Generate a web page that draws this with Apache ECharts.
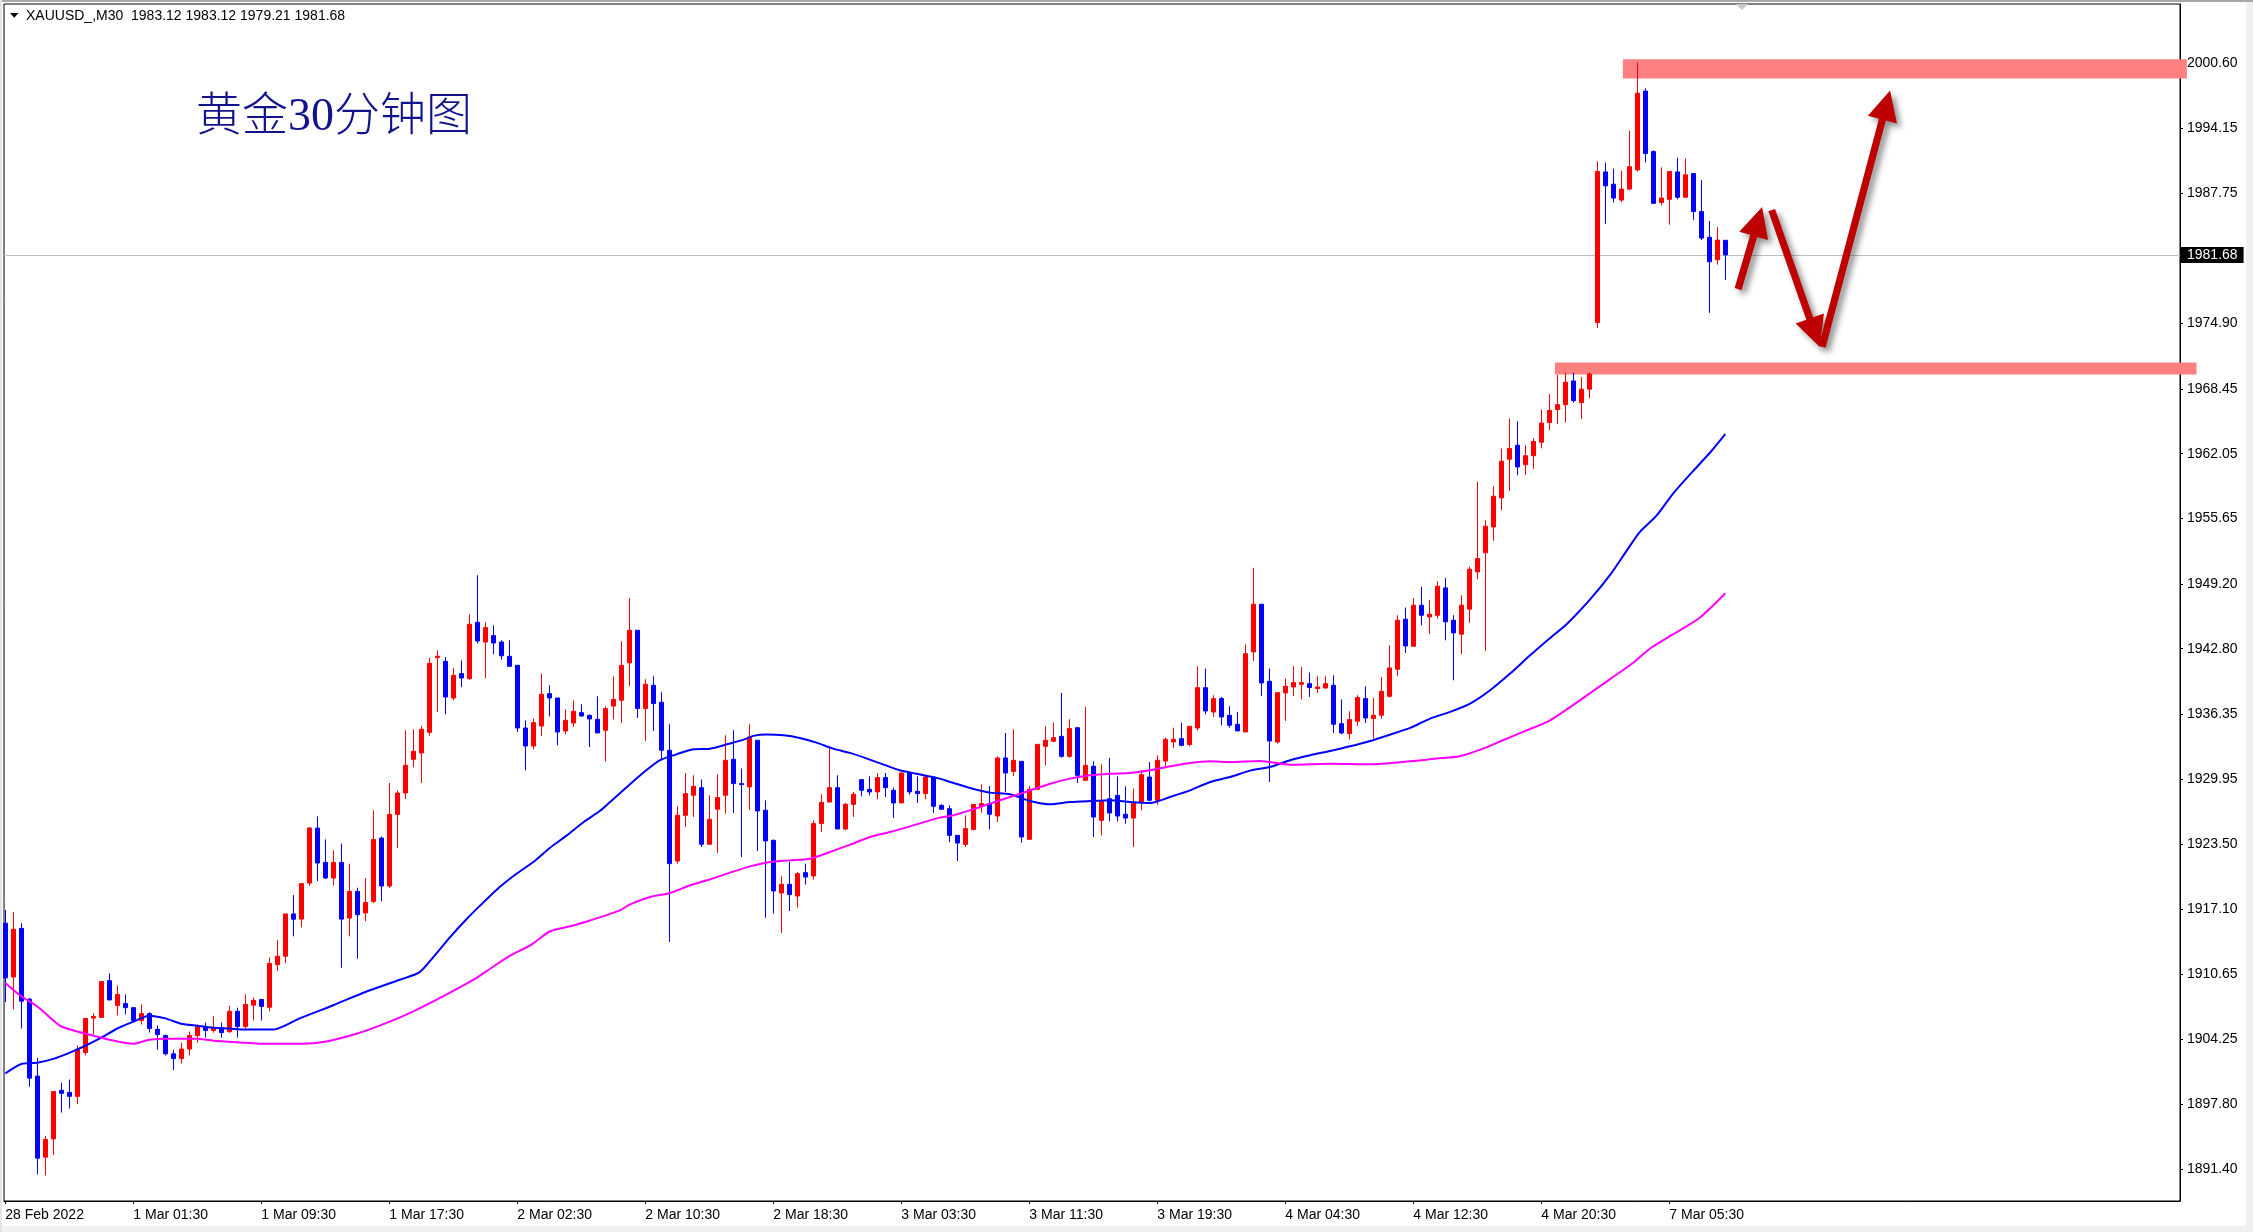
<!DOCTYPE html>
<html><head><meta charset="utf-8">
<script src="https://cdn.jsdelivr.net/npm/echarts@6/dist/echarts.min.js"></script>
<style>html,body{margin:0;padding:0;background:#fff;overflow:hidden;}#c{width:2253px;height:1232px;}</style>
</head><body><div id="c"></div>
<script>
// ---------------- DATA ----------------
const opens = [
1915.70,1910.38,1915.18,1908.20,1900.60,1892.60,1894.40,1899.20,1898.99,1898.60,
1902.92,1906.33,1906.40,1910.02,1907.56,1907.76,1907.36,1906.09,1906.77,1905.22,
1904.60,1902.80,1902.33,1903.27,1904.60,1905.50,1905.10,1905.38,1904.98,1907.00,
1905.50,1907.60,1908.16,1907.40,1911.60,1912.44,1916.61,1916.10,1919.66,1925.09,
1921.70,1920.16,1921.70,1916.20,1918.84,1916.70,1917.85,1924.10,1919.37,1926.44,
1928.55,1931.88,1932.50,1934.54,1941.92,1941.55,1937.93,1940.34,1939.84,1945.41,
1943.46,1944.09,1943.46,1942.05,1941.16,1934.97,1933.19,1935.17,1938.36,1937.93,
1934.67,1935.46,1936.48,1936.22,1935.83,1934.74,1937.14,1937.71,1941.40,1944.62,
1936.89,1939.19,1937.51,1932.77,1921.84,1926.35,1928.33,1929.08,1923.49,1926.95,
1928.33,1931.88,1929.48,1929.15,1933.76,1926.85,1923.88,1918.68,1919.54,1918.38,
1920.69,1920.36,1925.53,1927.66,1929.08,1925.00,1927.43,1929.87,1928.92,1928.66,
1930.07,1928.82,1927.57,1930.53,1928.72,1928.49,1930.13,1927.33,1927.00,1924.37,
1923.48,1924.96,1927.27,1927.50,1926.28,1932.01,1930.69,1931.68,1923.98,1928.92,
1933.16,1933.66,1934.15,1932.17,1935.00,1929.80,1931.19,1925.85,1927.99,1928.32,
1926.45,1926.08,1927.60,1930.13,1927.83,1931.71,1933.59,1933.92,1933.33,1934.97,
1938.95,1936.55,1937.87,1936.22,1935.34,1934.58,1942.48,1947.19,1939.58,1933.59,
1938.43,1939.02,1939.29,1939.35,1938.86,1938.92,1939.19,1935.40,1934.41,1935.64,
1937.87,1935.90,1936.23,1938.10,1940.77,1945.71,1943.04,1947.09,1945.94,1946.10,
1948.80,1945.61,1944.23,1946.70,1950.38,1952.26,1954.82,1957.69,1961.51,1962.89,
1960.96,1961.85,1963.18,1965.12,1966.41,1966.89,1969.23,1967.09,1968.42,1974.99,
1989.87,1988.66,1987.09,1988.18,1990.07,1997.85,1991.88,1986.85,1987.17,1989.87,
1987.37,1989.71,1985.96,1983.42,1981.20,1983.12];
const highs = [
1917.00,1916.81,1915.70,1908.30,1902.40,1894.70,1899.10,1899.94,1900.26,1903.63,
1906.30,1906.81,1909.94,1910.74,1909.55,1908.67,1907.36,1907.68,1906.90,1905.60,
1904.70,1903.20,1903.90,1905.00,1905.70,1905.90,1906.50,1905.90,1907.56,1907.36,
1908.67,1908.36,1908.16,1912.32,1914.03,1916.61,1918.47,1919.65,1925.20,1926.25,
1923.97,1922.89,1923.55,1921.57,1919.20,1920.16,1926.84,1924.27,1929.54,1928.80,
1934.74,1934.84,1935.20,1941.90,1942.64,1941.98,1940.90,1941.65,1946.20,1950.05,
1945.41,1945.11,1943.63,1943.63,1941.16,1935.73,1935.89,1940.34,1939.18,1937.93,
1936.81,1937.70,1937.31,1936.29,1938.10,1937.11,1940.07,1943.54,1947.82,1944.62,
1939.78,1940.08,1938.50,1935.34,1927.24,1930.53,1930.30,1929.90,1928.33,1930.40,
1934.25,1934.75,1930.96,1935.34,1933.76,1927.83,1923.95,1920.33,1921.74,1920.75,
1921.58,1925.86,1928.43,1933.10,1930.30,1927.57,1928.66,1929.87,1930.20,1930.53,
1930.53,1929.08,1930.53,1930.53,1930.20,1930.30,1930.13,1927.45,1927.33,1924.37,
1926.35,1927.43,1929.41,1929.24,1932.17,1934.48,1934.84,1931.68,1929.24,1933.36,
1935.14,1935.50,1938.43,1935.83,1935.00,1937.05,1931.68,1931.38,1932.01,1930.20,
1929.21,1928.98,1930.79,1931.61,1932.27,1934.02,1935.00,1935.50,1935.14,1941.06,
1940.83,1938.20,1938.03,1937.11,1936.55,1943.23,1950.78,1947.19,1940.83,1938.46,
1939.85,1941.07,1941.00,1940.44,1940.08,1940.08,1940.18,1937.80,1936.62,1938.20,
1939.09,1937.94,1940.01,1943.14,1946.10,1946.86,1947.81,1948.90,1947.58,1949.46,
1949.79,1946.10,1948.08,1950.88,1959.27,1955.48,1958.84,1962.56,1965.52,1965.26,
1962.90,1963.58,1966.41,1967.94,1969.83,1970.03,1970.03,1969.63,1970.11,1990.92,
1990.80,1990.19,1989.99,1993.94,2000.67,1998.13,1992.01,1990.31,1989.91,1991.28,
1991.20,1989.71,1989.06,1985.03,1984.43,1983.12];
const lows = [
1907.90,1907.20,1905.30,1899.55,1890.90,1890.80,1892.80,1897.00,1897.40,1897.84,
1902.64,1904.70,1906.40,1908.10,1906.60,1906.70,1905.97,1905.70,1904.90,1903.20,
1902.64,1901.20,1901.85,1902.64,1903.90,1904.40,1904.90,1904.40,1904.90,1904.40,
1905.30,1906.09,1906.09,1907.00,1910.97,1911.77,1914.40,1915.30,1919.40,1919.86,
1920.06,1919.43,1911.30,1914.40,1912.19,1915.91,1917.70,1917.88,1919.17,1923.12,
1927.96,1931.10,1929.54,1934.20,1936.55,1936.32,1937.70,1939.00,1939.74,1943.30,
1939.90,1942.25,1941.72,1941.00,1934.57,1930.79,1932.86,1934.18,1936.12,1933.26,
1934.35,1935.07,1936.06,1933.09,1934.48,1931.68,1935.83,1935.47,1939.09,1935.96,
1933.69,1934.68,1931.78,1913.84,1921.58,1925.20,1926.19,1923.22,1923.49,1922.63,
1926.52,1926.58,1922.23,1926.85,1922.83,1916.24,1916.64,1914.73,1916.90,1917.23,
1919.50,1920.00,1924.70,1927.66,1925.00,1924.87,1926.19,1928.23,1928.33,1927.93,
1928.16,1926.09,1927.57,1928.39,1927.57,1927.93,1926.58,1926.90,1923.71,1921.84,
1923.22,1924.86,1926.61,1924.96,1925.69,1928.65,1930.23,1923.65,1923.98,1928.92,
1931.28,1933.59,1932.04,1932.04,1929.54,1929.80,1924.21,1924.37,1925.75,1925.75,
1925.52,1923.22,1926.84,1927.73,1927.40,1931.19,1932.99,1933.16,1933.16,1934.74,
1936.32,1936.06,1935.24,1935.00,1934.68,1934.58,1941.59,1938.14,1929.64,1933.43,
1935.67,1938.14,1937.80,1938.04,1938.43,1938.86,1934.48,1934.35,1933.85,1935.17,
1935.47,1933.92,1935.90,1937.97,1940.08,1942.38,1943.04,1945.12,1944.23,1945.77,
1943.63,1939.68,1942.25,1945.35,1949.66,1942.58,1953.44,1956.47,1958.38,1959.93,
1959.96,1960.56,1962.58,1964.39,1964.99,1965.12,1967.09,1965.48,1967.53,1974.47,
1984.75,1986.85,1986.89,1988.06,1989.91,1990.80,1986.77,1986.56,1984.67,1987.17,
1987.37,1985.15,1983.14,1975.96,1980.72,1979.21];
const closes = [
1910.30,1915.10,1908.00,1900.40,1892.50,1894.35,1899.07,1898.90,1898.60,1903.24,
1906.29,1906.49,1909.94,1908.12,1908.67,1907.36,1906.09,1906.77,1905.30,1904.70,
1902.80,1902.33,1903.27,1904.60,1905.50,1905.10,1905.38,1904.90,1907.00,1905.50,
1907.68,1908.08,1907.48,1911.73,1912.44,1916.61,1916.09,1919.60,1925.09,1921.64,
1920.16,1921.70,1916.10,1918.84,1916.53,1917.75,1923.97,1919.37,1926.44,1928.55,
1931.28,1932.67,1934.84,1941.36,1942.05,1938.03,1940.17,1939.91,1945.21,1943.56,
1944.88,1943.36,1942.10,1941.06,1934.97,1933.19,1935.50,1938.30,1937.93,1934.57,
1935.73,1936.62,1936.16,1935.86,1934.48,1936.88,1937.80,1941.16,1944.62,1936.89,
1939.29,1937.38,1932.77,1921.58,1926.35,1928.49,1929.21,1923.49,1925.96,1928.10,
1931.78,1929.48,1929.38,1934.09,1926.78,1923.82,1918.88,1919.54,1918.52,1920.59,
1920.26,1925.53,1927.63,1929.08,1925.00,1927.44,1928.43,1928.82,1928.66,1930.07,
1929.08,1927.57,1930.53,1928.66,1928.49,1930.13,1927.24,1926.94,1924.37,1923.61,
1925.03,1927.43,1927.50,1926.45,1932.01,1930.53,1931.78,1924.21,1928.92,1933.36,
1933.76,1934.02,1932.17,1934.91,1930.30,1931.28,1926.18,1927.73,1926.58,1926.28,
1926.08,1927.60,1930.36,1927.83,1931.78,1933.85,1933.85,1933.26,1935.14,1938.95,
1936.65,1937.87,1936.06,1935.24,1934.68,1942.31,1947.19,1939.42,1933.69,1938.46,
1939.09,1939.45,1939.45,1938.96,1939.02,1939.35,1935.34,1934.48,1935.80,1937.97,
1935.96,1936.23,1938.59,1940.90,1945.61,1943.07,1947.09,1946.10,1946.20,1948.97,
1945.45,1944.36,1947.09,1950.65,1951.70,1954.89,1957.85,1961.31,1962.56,1960.75,
1961.85,1963.26,1965.08,1966.33,1966.89,1969.11,1967.29,1968.42,1969.91,1989.91,
1988.50,1987.29,1988.18,1990.39,1997.65,1991.68,1986.77,1987.29,1989.91,1987.37,
1989.59,1985.96,1983.34,1981.00,1983.14,1981.68];

// moving averages: [bar index, price]
const maBlue = [[0,1900.86],[2,1901.8],[4,1901.93],[6,1902.3],[8,1902.9],[10,1903.6],[12,1904.4],[14,1905.3],[16,1905.97],[18,1906.57],[20,1906.3],[22,1905.77],[24,1905.57],[26,1905.38],[28,1905.3],[30,1905.2],[33.5,1905.2],[35,1905.6],[36.8,1906.3],[41,1907.6],[45,1908.9],[49.3,1910.11],[51.8,1910.87],[53.5,1912.35],[55.6,1914.33],[57.7,1916.14],[59.8,1917.78],[61.8,1919.27],[63.9,1920.58],[66,1921.74],[68.1,1923.15],[70.2,1924.37],[72.3,1925.69],[74.3,1926.77],[75.6,1927.67],[77.7,1929.15],[79.7,1930.53],[81.8,1931.78],[83.9,1932.37],[86,1932.87],[88.1,1932.93],[90.2,1933.36],[92.3,1933.82],[93.5,1934.19],[95.2,1934.32],[97.3,1934.25],[99.3,1933.99],[101.4,1933.53],[103.5,1932.93],[105.6,1932.51],[107.7,1931.95],[109.8,1931.35],[111.8,1930.79],[113.9,1930.46],[116.8,1929.97],[118.1,1929.64],[120.6,1929.05],[123.1,1928.59],[125.6,1928.42],[128.1,1927.76],[130.6,1927.43],[133.1,1927.66],[135.6,1927.76],[138.1,1927.83],[140.6,1927.66],[143.1,1927.56],[145.6,1928.16],[148.1,1928.81],[150.6,1929.64],[153.1,1930.13],[155.6,1930.76],[158.1,1931.12],[160.6,1931.78],[163.1,1932.27],[165.6,1932.7],[168.1,1933.16],[170.6,1933.69],[173.1,1934.32],[175.6,1934.98],[178.1,1935.9],[180.6,1936.56],[183.1,1937.38],[185.6,1938.7],[188.1,1940.34],[190.6,1942.15],[193.1,1943.86],[195.2,1945.24],[198.1,1947.66],[200.6,1950.08],[202.7,1952.5],[204.3,1954.31],[206.4,1955.93],[208.5,1958.14],[211,1960.36],[213.1,1962.17],[215,1963.99]];
const maMagenta = [[0,1909.8],[2,1908.48],[4,1907.48],[6,1906.1],[7,1905.5],[9,1905.0],[11,1904.6],[13,1904.2],[16,1903.8],[18,1904.2],[20,1904.3],[24,1904.3],[26,1904.1],[30,1903.9],[32,1903.8],[37,1903.8],[40,1904.0],[44,1904.8],[47.5,1905.8],[51,1907.0],[55,1908.6],[58.7,1910.2],[60.6,1911.2],[63.1,1912.5],[65.6,1913.5],[68.1,1914.9],[70.6,1915.4],[73.1,1915.97],[76.8,1916.96],[78.1,1917.56],[80.6,1918.28],[83.1,1918.68],[85.6,1919.44],[88.1,1920.03],[90.6,1920.69],[93.1,1921.31],[95.6,1921.74],[98.1,1921.9],[100.6,1922.07],[103.1,1922.73],[105.6,1923.45],[108.1,1924.21],[110.6,1924.7],[113.1,1925.26],[116.8,1926.12],[118.1,1926.28],[120.6,1926.84],[123.1,1927.5],[125.6,1928.16],[128.1,1928.81],[130.6,1929.47],[133.1,1929.97],[135.6,1930.3],[138.1,1930.46],[140.6,1930.53],[143.1,1930.79],[145.6,1931.19],[148.1,1931.52],[150.6,1931.68],[153.1,1931.61],[156.8,1931.71],[160.6,1931.35],[165.6,1931.45],[170.6,1931.39],[175.6,1931.68],[178.9,1931.95],[181.8,1932.18],[184.7,1932.93],[187.2,1933.76],[189.7,1934.58],[193.1,1935.73],[197,1937.8],[200.6,1939.8],[203.5,1941.41],[205.6,1942.82],[208.5,1944.23],[211.8,1945.85],[215,1948.27]];

const xTickIndex = [0,16,32,48,64,80,96,112,128,144,160,176,192,208];
const xTickLabels = ['28 Feb 2022','1 Mar 01:30','1 Mar 09:30','1 Mar 17:30','2 Mar 02:30','2 Mar 10:30','2 Mar 18:30','3 Mar 03:30','3 Mar 11:30','3 Mar 19:30','4 Mar 04:30','4 Mar 12:30','4 Mar 20:30','7 Mar 05:30'];
const yTickValues = [1891.40,1897.80,1904.25,1910.65,1917.10,1923.50,1929.95,1936.35,1942.80,1949.20,1955.65,1962.05,1968.45,1974.90,1987.75,1994.15,2000.60];
const currentPrice = 1981.68;
const headerText = 'XAUUSD_,M30  1983.12 1983.12 1979.21 1981.68';
const titleText = '黄金30分钟图';
// annotations in (bar index, price)
const zoneStart = [202.2, 193.7];
const zoneEnd   = [272.7, 273.9];
const zoneTop   = [2001.0, 1971.05];
const zoneBottom= [1999.1, 1969.87];
const arrowTail = [[216.6,1978.3],[220.8,1986.1],[227.1,1972.6]];
const arrowTip  = [[219.6,1986.4],[226.8,1972.6],[235.6,1997.9]];

// ---------------- CHART ----------------
const FONT = '"Liberation Sans", Arial, sans-serif';
const chart = echarts.init(document.getElementById('c'), null, {renderer:'canvas', width:2253, height:1232});
const candleData = opens.map((o,i)=>[i, o, closes[i], lows[i], highs[i]]);

chart.setOption({
  animation:false,
  backgroundColor:'#ffffff',
  grid:{left:4, top:4, right:73, bottom:31, show:true, borderColor:'#000', borderWidth:1, backgroundColor:'transparent'},
  xAxis:{
    type:'value', min:-0.1625, max:271.8375,
    axisLine:{show:true, onZero:false, lineStyle:{color:'#000', width:1}},
    splitLine:{show:false},
    axisTick:{show:true, customValues:xTickIndex, length:3, lineStyle:{color:'#000'}},
    axisLabel:{customValues:xTickIndex, formatter:v=>xTickLabels[xTickIndex.indexOf(v)] || '', align:'left', margin:7,
      fontSize:14, fontFamily:FONT, color:'#000'}
  },
  yAxis:{
    type:'value', position:'right', min:1888.27, max:2006.45,
    axisLine:{show:true, onZero:false, lineStyle:{color:'#000', width:1}},
    splitLine:{show:false},
    axisTick:{show:true, customValues:yTickValues, length:3, lineStyle:{color:'#000'}},
    axisLabel:{customValues:yTickValues, formatter:v=>Number(v).toFixed(2), margin:7,
      fontSize:14, fontFamily:FONT, color:'#000'}
  },
  series:[
    {
      type:'candlestick', data:candleData, encode:{x:0, y:[1,2,3,4]},
      barWidth:4, z:3, clip:true,
      itemStyle:{color:'#ff0000', color0:'#0000ff', borderColor:'#ff0000', borderColor0:'#0000ff', borderWidth:1},
      markLine:{
        silent:true, symbol:['none','none'], animation:false, z:1,
        lineStyle:{color:'#c0c0c0', width:1, type:'solid'},
        data:[{yAxis:currentPrice}],
        label:{show:true, position:'end', distance:1, formatter:currentPrice.toFixed(2),
          backgroundColor:'#000', color:'#fff', padding:[1,6,1,6], fontSize:14, lineHeight:14, fontFamily:FONT}
      }
    },
    {type:'line', data:maBlue, smooth:0.25, showSymbol:false, z:4, clip:true,
      lineStyle:{color:'#0000ff', width:2}},
    {type:'line', data:maMagenta, smooth:0.25, showSymbol:false, z:4, clip:true,
      lineStyle:{color:'#ff00ff', width:2}}
  ]
});

// ---------------- ANNOTATIONS ----------------
const px = p => chart.convertToPixel({gridIndex:0}, p);
const graphics = [];
// zones
for (let i=0;i<zoneStart.length;i++){
  const a = px([zoneStart[i], zoneTop[i]]), b = px([zoneEnd[i], zoneBottom[i]]);
  graphics.push({type:'rect', z:1, silent:true,
    shape:{x:a[0], y:a[1], width:b[0]-a[0], height:b[1]-a[1]},
    style:{fill:'#ff8080'}});
}
// arrows
for (let i=0;i<arrowTail.length;i++){
  const T = px(arrowTail[i]), P = px(arrowTip[i]);
  const dx = P[0]-T[0], dy = P[1]-T[1], L = Math.hypot(dx,dy);
  const ux = dx/L, uy = dy/L, nx = -uy, ny = ux;
  const hl = 30, hw = 15, sw = 3.6;
  const bx = P[0]-ux*hl, by = P[1]-uy*hl;
  const pts = [
    [T[0]+nx*sw, T[1]+ny*sw],[bx+nx*sw, by+ny*sw],[bx+nx*hw, by+ny*hw],[P[0],P[1]],
    [bx-nx*hw, by-ny*hw],[bx-nx*sw, by-ny*sw],[T[0]-nx*sw, T[1]-ny*sw]];
  graphics.push({type:'polygon', z:50, silent:true, shape:{points:pts},
    style:{fill:'#bf0000', shadowBlur:6, shadowOffsetX:4, shadowOffsetY:4, shadowColor:'rgba(0,0,0,0.45)'}});
}
// header & title
graphics.push({type:'polygon', z:60, silent:true, shape:{points:[[10,13],[18.5,13],[14.25,17.8]]}, style:{fill:'#000'}});
graphics.push({type:'text', z:60, silent:true, x:26, y:16.5,
  style:{text:headerText, fill:'#000', font:'14px '+FONT, textVerticalAlign:'middle', textAlign:'left'}});
graphics.push({type:'text', z:60, silent:true, x:196, y:118,
  style:{text:titleText, fill:'#12128a', font:'300 46px "Liberation Serif", "Noto Sans CJK SC", serif', textVerticalAlign:'middle', textAlign:'left'}});
// chart-shift marker
graphics.push({type:'polygon', z:60, silent:true, shape:{points:[[1736,4],[1748,4],[1742,10]]}, style:{fill:'#c8c8c8'}});
// window frame
graphics.push({type:'rect', z:0, silent:true, shape:{x:2246,y:0,width:7,height:1232}, style:{fill:'#f0f0f0'}});
graphics.push({type:'rect', z:0, silent:true, shape:{x:0,y:1226,width:2253,height:6}, style:{fill:'#f0f0f0'}});
graphics.push({type:'rect', z:0, silent:true, shape:{x:0,y:0,width:2253,height:2}, style:{fill:'#a8a8a8'}});
graphics.push({type:'rect', z:0, silent:true, shape:{x:0,y:0,width:2,height:1232}, style:{fill:'#e4e4e4'}});
chart.setOption({graphic:graphics});
</script>
</body></html>
